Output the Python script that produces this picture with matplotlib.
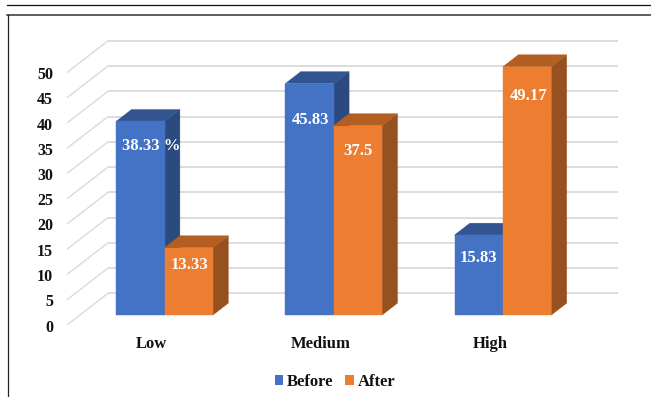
import matplotlib
matplotlib.use("Agg")
import matplotlib.pyplot as plt
from matplotlib.patches import Polygon, Patch
from matplotlib.lines import Line2D

categories = ["Low", "Medium", "High"]
before_values = [38.33, 45.83, 15.83]
after_values = [13.33, 37.5, 49.17]
before_labels = ["38.33 %", "45.83", "15.83"]
after_labels = ["13.33", "37.5", "49.17"]
y_ticks = [0, 5, 10, 15, 20, 25, 30, 35, 40, 45, 50]
series_names = ["Before", "After"]

W, H = 651, 397
PX_X = 169.2      # pixels per category
PX_Y = 5.05       # pixels per value unit
X0 = 67.0         # pixel of the left edge of the front floor
Y0 = 325.0        # pixel of value 0 on the front floor
DX = 41.0 / PX_X  # full-depth shift in data units
DY = 31.7 / PX_Y
BAR_W = 48.4 / PX_X
D_FRONT, D_BACK = 0.315, 0.69

plt.rcParams["font.family"] = ["Liberation Serif", "DejaVu Serif"]
plt.rcParams["font.weight"] = "bold"

fig = plt.figure(figsize=(W / 100, H / 100), dpi=100, facecolor="white")
ax = fig.add_axes([0, 0, 1, 1])
ax.set_xlim(-0.5 - X0 / PX_X, -0.5 + (W - X0) / PX_X)
ax.set_ylim(-(H - Y0) / PX_Y, Y0 / PX_Y)
ax.axis("off")


def proj(x, v, d):
    return (x + d * DX, v + d * DY)


GRID = "#DADADA"
for t in y_ticks:
    a = proj(-0.5, t, 0)
    b = proj(-0.5, t, 1)
    c = (2.5 + DX + 2 / PX_X, b[1])
    ax.plot([a[0], b[0]], [a[1], b[1]], color=GRID, lw=1.0, zorder=1, solid_capstyle="butt")
    ax.plot([b[0], c[0]], [b[1], c[1]], color=GRID, lw=1.3, zorder=1, solid_capstyle="butt")
    ax.annotate(str(t), (-0.5, t), xytext=(-14, -2.5), textcoords="offset pixels",
                ha="right", va="center", fontsize=11.5, color="#111111", zorder=5)


def bar3d(x0, x1, v, front, top, side, z):
    ax.add_patch(Polygon([proj(x1, 0, D_FRONT), proj(x1, 0, D_BACK), proj(x1, v, D_BACK), proj(x1, v, D_FRONT)],
                         closed=True, fc=side, ec=side, lw=0.3, zorder=z))
    ax.add_patch(Polygon([proj(x0, v, D_FRONT), proj(x1, v, D_FRONT), proj(x1, v, D_BACK), proj(x0, v, D_BACK)],
                         closed=True, fc=top, ec=top, lw=0.3, zorder=z))
    ax.add_patch(Polygon([proj(x0, 0, D_FRONT), proj(x1, 0, D_FRONT), proj(x1, v, D_FRONT), proj(x0, v, D_FRONT)],
                         closed=True, fc=front, ec=front, lw=0.3, zorder=z + 0.1))


BLUE = ("#4472C4", "#325592", "#2B4A80")
ORANGE = ("#ED7D31", "#B45E22", "#97511E")
before_off = [(11, -25), (1, -36), (0, -23)]
after_off = [(1, -17), (0, -25), (1, -29)]

for i, cat in enumerate(categories):
    bar3d(i - BAR_W, i, before_values[i], *BLUE, 2 + i * 0.5)
    bar3d(i, i + BAR_W, after_values[i], *ORANGE, 2.2 + i * 0.5)
    for xc, v, lab, off in ((i - BAR_W / 2, before_values[i], before_labels[i], before_off[i]),
                            (i + BAR_W / 2, after_values[i], after_labels[i], after_off[i])):
        ax.annotate(lab, proj(xc, v, D_FRONT), xytext=off, textcoords="offset pixels",
                    ha="center", va="center", fontsize=12, color="white", zorder=6)
    ax.annotate(cat, (i, 0), xytext=(0, -19.5), textcoords="offset pixels",
                ha="center", va="center", fontsize=12, color="#111111", zorder=5)

handles = [Patch(fc=BLUE[0], ec="none"), Patch(fc=ORANGE[0], ec="none")]
ax.legend(handles, series_names, loc="center", bbox_to_anchor=(335 / W, 1 - 382 / H),
          bbox_transform=fig.transFigure, ncol=2, frameon=False, fontsize=12,
          handlelength=0.5, handleheight=0.5, handletextpad=0.22, columnspacing=0.72,
          labelcolor="#111111")

# page rules around the chart
for xs, ys, c, lw in (([7, W], [5, 5], "#111111", 0.9),
                      ([7, W], [15, 15], "#333333", 1.1),
                      ([7.5, 7.5], [15, H], "#222222", 0.9)):
    fig.add_artist(Line2D([x / W for x in xs], [1 - y / H for y in ys], color=c, lw=lw))

fig.savefig("out.png", dpi=100)
